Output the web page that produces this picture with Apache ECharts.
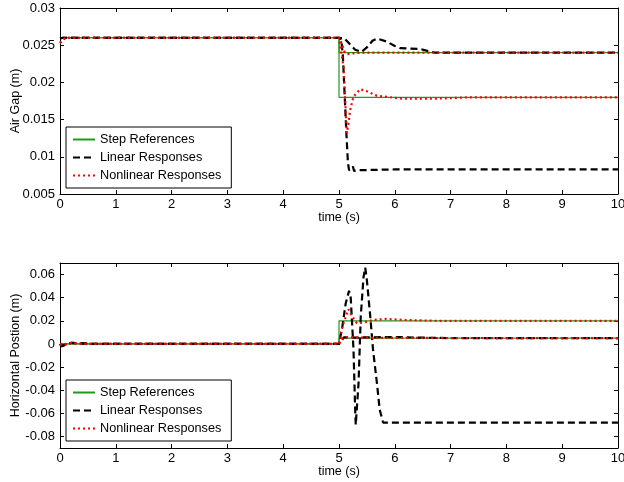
<!DOCTYPE html>
<html>
<head>
<meta charset="utf-8">
<script src="https://cdn.jsdelivr.net/npm/echarts@6/dist/echarts.min.js"></script>
<style>
  html, body { margin: 0; padding: 0; background: #fff; }
  #chart { width: 624px; height: 482px; }
</style>
</head>
<body>
<div id="chart"></div>
<script>
// legend names
const legendNames = ['Step References', 'Linear Responses', 'Nonlinear Responses'];

// x ticks (time, s)
const timeTicks = [0, 1, 2, 3, 4, 5, 6, 7, 8, 9, 10];

// ---- Air gap (m), pairs [t, value] ----
const gapRefHigh = [[0, 0.026], [5, 0.026], [5, 0.024], [10, 0.024]];
const gapRefLow = [[0, 0.026], [5, 0.026], [5, 0.018], [10, 0.018]];

const gapLinHigh = [[0, 0.0259], [0.05, 0.026], [5, 0.026], [5.1, 0.0259], [5.2, 0.0251], [5.29, 0.0244],
    [5.4, 0.0241], [5.5, 0.0247], [5.6, 0.0256], [5.68, 0.0259], [5.85, 0.0255], [6.0, 0.0249],
    [6.1, 0.0246], [6.45, 0.0245], [6.6, 0.0242], [6.72, 0.024], [10, 0.024]];
const gapLinLow = [[0, 0.0259], [0.05, 0.026], [5, 0.026], [5.04, 0.0258], [5.07, 0.0235], [5.1, 0.0185],
    [5.13, 0.0135], [5.16, 0.0092], [5.18, 0.0082], [5.22, 0.0083], [5.25, 0.0087], [5.27, 0.0081],
    [5.35, 0.0082], [6, 0.0083], [10, 0.0083]];

const gapNonHigh = [[0, 0.0253], [0.05, 0.0257], [0.1, 0.026], [5, 0.026], [5.05, 0.0252], [5.1, 0.0241],
    [5.15, 0.0238], [5.25, 0.0239], [5.4, 0.024], [10, 0.024]];
const gapNonLow = [[0, 0.0253], [0.05, 0.0257], [0.1, 0.026], [5, 0.026], [5.03, 0.0258], [5.08, 0.0221],
    [5.11, 0.0177], [5.14, 0.0132], [5.17, 0.0145], [5.2, 0.0163], [5.26, 0.0181], [5.38, 0.0191],
    [5.5, 0.0188], [5.68, 0.0182], [6.15, 0.0178], [6.7, 0.0178], [7.35, 0.018], [10, 0.018]];

// ---- Horizontal position (m) ----
const posRefHigh = [[0, 0], [5, 0], [5, 0.02], [10, 0.02]];
const posRefLow = [[0, 0], [5, 0], [5, 0.005], [10, 0.005]];

const posLinBig = [[0, 0], [0.03, -0.002], [0.08, -0.001], [0.2, 0.001], [0.4, 0.0005], [0.6, 0], [5, 0],
    [5.06, 0.015], [5.12, 0.035], [5.18, 0.046], [5.21, 0.04], [5.26, -0.005], [5.29, -0.057],
    [5.3, -0.07], [5.35, -0.034], [5.39, 0.024], [5.44, 0.058], [5.47, 0.066], [5.5, 0.055],
    [5.56, 0.024], [5.61, -0.005], [5.68, -0.034], [5.73, -0.057], [5.79, -0.068], [10, -0.068]];
const posLinSmall = [[0, 0], [0.03, -0.002], [0.08, -0.001], [0.2, 0.001], [0.4, 0.0005], [0.6, 0], [5, 0],
    [5.05, 0.003], [5.09, 0.0058], [5.3, 0.0055], [6.0, 0.006], [6.4, 0.0055], [7, 0.005], [10, 0.005]];

const posNonHigh = [[0, 0], [0.05, -0.001], [0.2, 0.0008], [0.5, 0], [5, 0], [5.06, 0.015], [5.17, 0.03],
    [5.22, 0.025], [5.32, 0.018], [5.44, 0.0185], [5.62, 0.0208], [5.85, 0.0216], [6.2, 0.0207],
    [6.75, 0.02], [10, 0.02]];
const posNonSmall = [[0, 0], [0.05, -0.001], [0.2, 0.0008], [0.5, 0], [5, 0], [5.05, 0.004], [5.1, 0.006],
    [5.3, 0.0055], [5.8, 0.0052], [10, 0.005]];

// y tick labels
const gapTicks = [0.005, 0.01, 0.015, 0.02, 0.025, 0.03];
const posTicks = [-0.08, -0.06, -0.04, -0.02, 0, 0.02, 0.04, 0.06];

const FONT = 'Liberation Sans, Arial, Helvetica, sans-serif';
const GREEN = '#1e9a1e';
const RED = '#ff0000';

function fmt(v) {
    return String(parseFloat(v.toFixed(4)));
}

function xAxisFor(grid, bottom) {
    return {
        type: 'value', gridIndex: grid, min: 0, max: 10,
        position: bottom ? 'bottom' : 'top',
        name: bottom ? 'time (s)' : '', nameLocation: 'middle', nameGap: 17, nameMoveOverlap: false,
        nameTextStyle: { color: '#000', fontSize: 12.5, fontFamily: FONT },
        axisLine: { show: true, onZero: false, lineStyle: { color: '#000', width: 1 } },
        axisTick: { show: true, inside: true, length: 4, customValues: timeTicks, lineStyle: { color: '#000' } },
        axisLabel: { show: bottom, customValues: timeTicks, color: '#000', fontSize: 13, fontFamily: FONT, margin: 4 },
        splitLine: { show: false }
    };
}

function yAxisFor(grid, left, min, max, ticks, name) {
    return {
        type: 'value', gridIndex: grid, min: min, max: max,
        position: left ? 'left' : 'right',
        name: left ? name : '', nameLocation: 'middle', nameGap: 38, nameRotate: 90, nameMoveOverlap: false,
        nameTextStyle: { color: '#000', fontSize: 12.5, fontFamily: FONT },
        axisLine: { show: true, onZero: false, lineStyle: { color: '#000', width: 1 } },
        axisTick: { show: true, inside: true, length: 4, customValues: ticks, lineStyle: { color: '#000' } },
        axisLabel: { show: left, customValues: ticks, color: '#000', fontSize: 13, fontFamily: FONT,
            margin: 5, formatter: fmt },
        splitLine: { show: false }
    };
}

function lineSeries(name, data, grid) {
    const styles = {
        'Step References': { color: GREEN, width: 1.2, type: 'solid' },
        'Linear Responses': { color: '#000', width: 2.2, type: [7, 4] },
        'Nonlinear Responses': { color: RED, width: 2.2, type: [2, 3] }
    };
    return {
        name: name, type: 'line', data: data, symbol: 'none', showSymbol: false,
        xAxisIndex: grid * 2, yAxisIndex: grid * 2,
        lineStyle: styles[name], itemStyle: { color: styles[name].color },
        animation: false, silent: true
    };
}

function legendFor(top) {
    return {
        data: legendNames, orient: 'vertical', left: 66, top: top,
        itemWidth: 22, itemHeight: 11, itemGap: 5,
        padding: [6, 10, 6, 6],
        borderColor: '#000', borderWidth: 1, backgroundColor: '#fff',
        itemStyle: { opacity: 0 },
        textStyle: { color: '#000', fontSize: 12.7, fontFamily: FONT },
        selectedMode: false
    };
}

const chart = echarts.init(document.getElementById('chart'));
chart.setOption({
    backgroundColor: '#fff',
    animation: false,
    grid: [
        { left: 60, top: 8, width: 558, height: 186, outerBoundsMode: 'none', containLabel: false },
        { left: 60, top: 263, width: 558, height: 185, outerBoundsMode: 'none', containLabel: false }
    ],
    xAxis: [xAxisFor(0, true), xAxisFor(0, false), xAxisFor(1, true), xAxisFor(1, false)],
    yAxis: [
        yAxisFor(0, true, 0.005, 0.03, gapTicks, 'Air Gap (m)'),
        yAxisFor(0, false, 0.005, 0.03, gapTicks, ''),
        yAxisFor(1, true, -0.09, 0.07, posTicks, 'Horizontal Postion (m)'),
        yAxisFor(1, false, -0.09, 0.07, posTicks, '')
    ],
    legend: [legendFor(127), legendFor(380)],
    series: [
        lineSeries('Step References', gapRefHigh, 0),
        lineSeries('Step References', gapRefLow, 0),
        lineSeries('Linear Responses', gapLinHigh, 0),
        lineSeries('Linear Responses', gapLinLow, 0),
        lineSeries('Nonlinear Responses', gapNonHigh, 0),
        lineSeries('Nonlinear Responses', gapNonLow, 0),
        lineSeries('Step References', posRefHigh, 1),
        lineSeries('Step References', posRefLow, 1),
        lineSeries('Linear Responses', posLinBig, 1),
        lineSeries('Linear Responses', posLinSmall, 1),
        lineSeries('Nonlinear Responses', posNonHigh, 1),
        lineSeries('Nonlinear Responses', posNonSmall, 1)
    ]
});
</script>
</body>
</html>
